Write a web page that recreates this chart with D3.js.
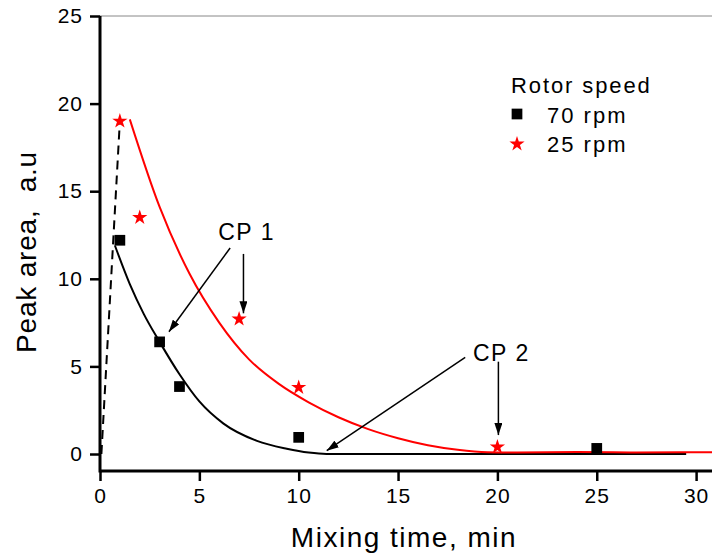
<!DOCTYPE html>
<html>
<head>
  <meta charset="utf-8">
  <title>Peak area vs mixing time</title>
  <style>
    body { margin: 0; background: #fff; }
    svg text { font-family: "Liberation Sans", Arial, sans-serif; fill: #000; }
  </style>
  <script src="https://d3js.org/d3.v7.min.js"></script>
</head>
<body>
<svg id="chart" width="712" height="554"></svg>
<script>
  // measured points
  var timeSlow = [1, 2, 7, 10, 20];          // 25 rpm
  var areaSlow = [19.0, 13.5, 7.7, 3.8, 0.4];
  var timeFast = [1, 3, 4, 10, 25];          // 70 rpm
  var areaFast = [12.2, 6.4, 3.85, 0.95, 0.32];

  // fitted curves
  var fitFastX = [0.75, 1.5, 2.2, 3, 4, 5, 6.2, 7.9, 9.4, 10.5, 11.4, 20, 29.5];
  var fitFastY = [11.9, 9.7, 8.0, 6.4, 4.55, 3.0, 1.75, 0.75, 0.3, 0.08, 0, 0, 0];
  var fitSlowX = [1.5, 3, 4.5, 6, 7.5, 9, 10.5, 12, 13.5, 15, 16.5, 18, 19.5, 21, 24, 27, 31];
  var fitSlowY = [19.1, 14.1, 10.3, 7.5, 5.4, 4.0, 2.95, 2.1, 1.42, 0.9, 0.5, 0.24, 0.1, 0.08, 0.11, 0.09, 0.1];

  // dashed rise to first point
  var riseX = [0.07, 1];
  var riseY = [0, 19];

  // annotations: text anchor, arrows [x1, y1, x2, y2]
  var notes = [
    { label: "CP 1", x: 5.95, y: 12.2, arrows: [[6.55, 11.76, 3.47, 6.98], [7.22, 11.42, 7.22, 8.03]] },
    { label: "CP 2", x: 18.77, y: 5.33, arrows: [[18.38, 5.52, 11.41, 0.19], [20.05, 5.27, 20.05, 1.08]] }
  ];

  var xTicks = [0, 5, 10, 15, 20, 25, 30];
  var yTicks = [0, 5, 10, 15, 20, 25];

  var svg = d3.select("#chart");
  var m = { left: 100, right: 712, top: 16, bottom: 471 };

  var x = d3.scaleLinear().domain([0, 30.8]).range([m.left, m.right]);
  var y = d3.scaleLinear().domain([-0.97, 25]).range([m.bottom, m.top]);

  // top frame line
  svg.append("line")
    .attr("x1", m.left).attr("x2", m.right).attr("y1", m.top).attr("y2", m.top)
    .attr("stroke", "#888").attr("stroke-width", 1);

  // axes
  var xAxis = d3.axisBottom(x).tickValues(xTicks).tickSize(10).tickPadding(6).tickFormat(d3.format("d"));
  var yAxis = d3.axisLeft(y).tickValues(yTicks).tickSize(10).tickPadding(7).tickFormat(d3.format("d"));

  var gx = svg.append("g").attr("transform", "translate(0," + m.bottom + ")");
  gx.call(d3.axisBottom(x).tickValues(d3.range(2.5, 30.8, 5)).tickSize(5).tickFormat(""));
  gx.call(xAxis);
  var gy = svg.append("g").attr("transform", "translate(" + m.left + ",0)");
  gy.call(d3.axisLeft(y).tickValues(d3.range(2.5, 25, 5)).tickSize(5).tickFormat(""));
  gy.call(yAxis);

  [gx, gy].forEach(function (g) {
    g.selectAll(".domain").remove();
    g.selectAll(".tick line").attr("stroke", "#000").attr("stroke-width", 2.5);
    g.selectAll(".tick text").attr("font-size", 21).style("letter-spacing", "1px")
      .attr("fill", "#000").style("font-family", "Liberation Sans, Arial, sans-serif");
  });
  gx.selectAll(".tick text").attr("dy", "0.75em");

  // axis lines
  svg.append("line").attr("x1", m.left).attr("x2", m.right).attr("y1", m.bottom).attr("y2", m.bottom)
    .attr("stroke", "#000").attr("stroke-width", 3);
  svg.append("line").attr("x1", m.left).attr("x2", m.left).attr("y1", m.top).attr("y2", m.bottom + 1.5)
    .attr("stroke", "#000").attr("stroke-width", 3);

  // axis titles
  svg.append("text")
    .attr("x", 404).attr("y", 547)
    .attr("text-anchor", "middle")
    .attr("font-size", 28).style("letter-spacing", "1.5px")
    .text("Mixing time, min");

  svg.append("text")
    .attr("transform", "translate(36,252) rotate(-90)")
    .attr("text-anchor", "middle")
    .attr("font-size", 28).style("letter-spacing", "0.8px")
    .attr("xml:space", "preserve")
    .text("Peak area,  a.u");

  svg.append("clipPath").attr("id", "plot")
    .append("rect").attr("x", m.left).attr("y", m.top)
    .attr("width", m.right - m.left).attr("height", m.bottom - m.top);

  var line = d3.line()
    .x(function (d) { return x(d[0]); })
    .y(function (d) { return y(d[1]); })
    .curve(d3.curveMonotoneX);

  var plot = svg.append("g").attr("clip-path", "url(#plot)");

  plot.append("path")
    .attr("d", d3.line().x(function (d) { return x(d[0]); }).y(function (d) { return y(d[1]); })(d3.zip(riseX, riseY)))
    .attr("fill", "none").attr("stroke", "#000").attr("stroke-width", 2)
    .attr("stroke-dasharray", "9,6");

  plot.append("path")
    .attr("d", line(d3.zip(fitFastX, fitFastY)))
    .attr("fill", "none").attr("stroke", "#000").attr("stroke-width", 2);

  plot.append("path")
    .attr("d", line(d3.zip(fitSlowX, fitSlowY)))
    .attr("fill", "none").attr("stroke", "#ff0000").attr("stroke-width", 2);

  var square = d3.symbol().type(d3.symbolSquare).size(115);
  var star = d3.symbol().type(d3.symbolStar).size(72);

  svg.append("g").selectAll("path")
    .data(d3.zip(timeFast, areaFast))
    .enter().append("path")
    .attr("d", square)
    .attr("transform", function (d) { return "translate(" + x(d[0]) + "," + y(d[1]) + ")"; })
    .attr("fill", "#000");

  svg.append("g").selectAll("path")
    .data(d3.zip(timeSlow, areaSlow))
    .enter().append("path")
    .attr("d", star)
    .attr("transform", function (d) { return "translate(" + x(d[0]) + "," + y(d[1]) + ")"; })
    .attr("fill", "#ff0000");

  // arrowhead
  svg.append("defs").append("marker")
    .attr("id", "head")
    .attr("viewBox", "0 0 12 8")
    .attr("refX", 12).attr("refY", 4)
    .attr("markerWidth", 12).attr("markerHeight", 8)
    .attr("markerUnits", "userSpaceOnUse")
    .attr("orient", "auto")
    .append("path").attr("d", "M0,0 L12,4 L0,8 Z").attr("fill", "#000");

  notes.forEach(function (n) {
    svg.append("text")
      .attr("x", x(n.x)).attr("y", y(n.y))
      .attr("font-size", 23).style("letter-spacing", "1.5px")
      .text(n.label);
    n.arrows.forEach(function (a) {
      svg.append("line")
        .attr("x1", x(a[0])).attr("y1", y(a[1]))
        .attr("x2", x(a[2])).attr("y2", y(a[3]))
        .attr("stroke", "#000").attr("stroke-width", 1.5)
        .attr("marker-end", "url(#head)");
    });
  });

  // legend
  var legend = svg.append("g").attr("transform", "translate(511,0)");
  legend.append("text").attr("x", 0).attr("y", 93)
    .attr("font-size", 22).style("letter-spacing", "1.9px").text("Rotor speed");
  legend.append("path").attr("d", square).attr("transform", "translate(6,114)").attr("fill", "#000");
  legend.append("text").attr("x", 36).attr("y", 123)
    .attr("font-size", 22).style("letter-spacing", "2px").text("70 rpm");
  legend.append("path").attr("d", star).attr("transform", "translate(6,144)").attr("fill", "#ff0000");
  legend.append("text").attr("x", 36).attr("y", 152)
    .attr("font-size", 22).style("letter-spacing", "2px").text("25 rpm");
</script>
</body>
</html>
